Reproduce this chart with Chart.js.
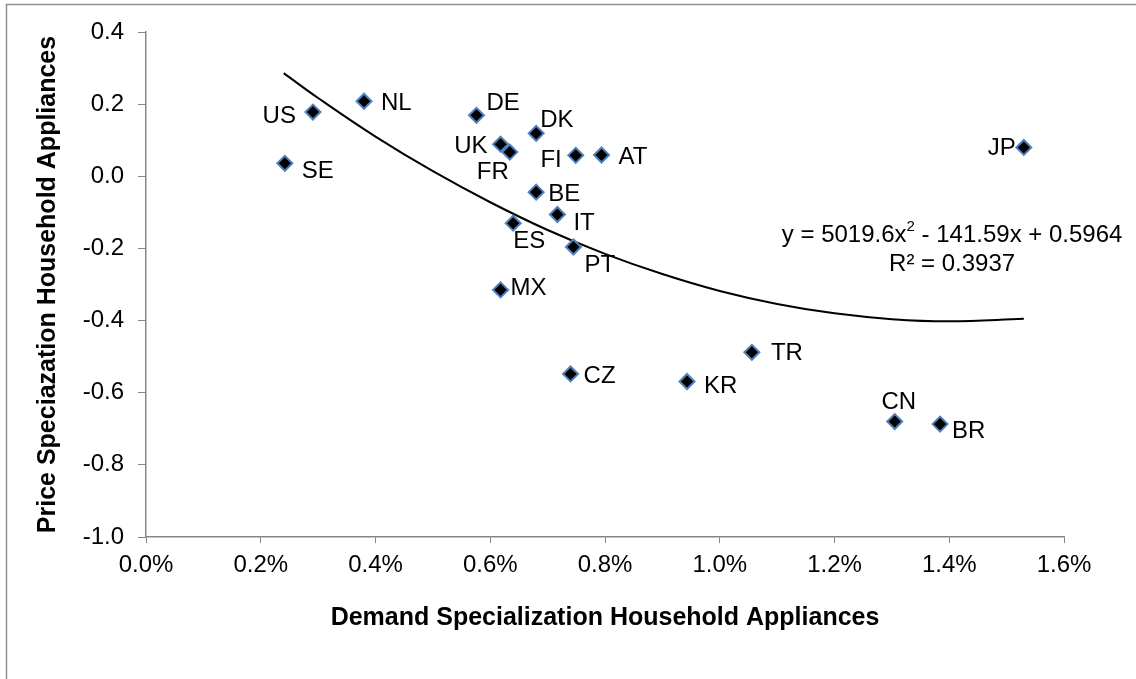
<!DOCTYPE html>
<html>
<head>
<meta charset="utf-8">
<script src="https://cdn.jsdelivr.net/npm/chart.js@4.4.1/dist/chart.umd.min.js"></script>
<style>
  body { margin: 0; background: #fff; }
  #wrap { width: 1136px; height: 679px; }
</style>
</head>
<body>
<div id="wrap"><canvas id="myChart"></canvas></div>
<script>
'use strict'

// country codes and values
const countries = ['US', 'SE', 'NL', 'DE', 'UK', 'FR', 'DK', 'FI', 'AT', 'BE',
                   'IT', 'ES', 'PT', 'MX', 'CZ', 'KR', 'TR', 'CN', 'BR', 'JP'];
const demandSpec = [0.00291, 0.00242, 0.00380, 0.00576, 0.00618, 0.00634, 0.00680, 0.00749, 0.00794, 0.00680,
                    0.00717, 0.00640, 0.00745, 0.00618, 0.00740, 0.00943, 0.01056, 0.01305, 0.01384, 0.01530];
const priceSpec = [0.178, 0.036, 0.208, 0.169, 0.089, 0.067, 0.119, 0.058, 0.059, -0.044,
                   -0.106, -0.130, -0.196, -0.315, -0.548, -0.569, -0.488, -0.680, -0.687, 0.080];

// points
const trendX = [0.0024, 0.003, 0.004, 0.005, 0.006, 0.007, 0.008, 0.009, 0.010, 0.011, 0.012, 0.013, 0.014, 0.0153];
const trendY = [0.286, 0.217, 0.110, 0.014, -0.072, -0.149, -0.215, -0.271, -0.318, -0.354, -0.380, -0.396, -0.402, -0.395];

const equationText = ['y = 5019.6x', '2', ' - 141.59x + 0.5964'];
const rSquaredText = 'R² = 0.3937';

const xTicks = [0, 0.002, 0.004, 0.006, 0.008, 0.010, 0.012, 0.014, 0.016];
const yTicks = [0.4, 0.2, 0.0, -0.2, -0.4, -0.6, -0.8, -1.0];

// where each country code sits next to its marker: [dx, dy, align]
const labelPlace = {
    US: [-17, 4, 'right'], SE: [17, 8, 'left'], NL: [17, 2, 'left'], DE: [10, -12, 'left'],
    UK: [-13, 2, 'right'], FR: [-17, 20, 'center'], DK: [4, -13, 'left'], FI: [-14, 5, 'right'],
    AT: [17, 2, 'left'], BE: [12, 2, 'left'], IT: [16, 9, 'left'], ES: [0, 18, 'left'],
    PT: [11, 18, 'left'], MX: [10, -2, 'left'], CZ: [13, 2, 'left'], KR: [17, 5, 'left'],
    TR: [19, 1, 'left'], CN: [4, -19, 'center'], BR: [12, 7, 'left'], JP: [-8, 1, 'right']
};

const FONT = "'Liberation Sans', Arial, sans-serif";
const TEXT_SIZE = 24;

const frameAndLabels = {
    id: 'frameAndLabels',
    beforeDraw(chart) {
        const ctx = chart.ctx;
        ctx.save();
        ctx.fillStyle = '#fff';
        ctx.fillRect(0, 0, chart.width, chart.height);
        ctx.strokeStyle = '#8e8e8e';
        ctx.lineWidth = 1.5;
        ctx.strokeRect(6.5, 4.5, chart.width + 20, chart.height + 20);
        ctx.restore();
    },
    afterDatasetsDraw(chart) {
        const ctx = chart.ctx;
        const meta = chart.getDatasetMeta(1);
        ctx.save();
        ctx.font = TEXT_SIZE + 'px ' + FONT;
        ctx.fillStyle = '#000';
        ctx.textBaseline = 'middle';
        meta.data.forEach((pt, i) => {
            const p = labelPlace[countries[i]];
            ctx.textAlign = p[2];
            ctx.fillText(countries[i], pt.x + p[0], pt.y + p[1]);
        });

        // trendline equation, anchored in data space
        const xs = chart.scales.x, ys = chart.scales.y;
        const cx = xs.getPixelForValue(0.01405);
        const y1 = ys.getPixelForValue(-0.164);
        const y2 = ys.getPixelForValue(-0.243);
        const big = TEXT_SIZE + 'px ' + FONT, small = '15px ' + FONT;
        ctx.font = big;
        const w0 = ctx.measureText(equationText[0]).width;
        const w2 = ctx.measureText(equationText[2]).width;
        ctx.font = small;
        const w1 = ctx.measureText(equationText[1]).width;
        let x = cx - (w0 + w1 + w2) / 2;
        ctx.textAlign = 'left';
        ctx.font = big;
        ctx.fillText(equationText[0], x, y1);
        x += w0;
        ctx.font = small;
        ctx.fillText(equationText[1], x, y1 - 9);
        x += w1;
        ctx.font = big;
        ctx.fillText(equationText[2], x, y1);
        ctx.textAlign = 'center';
        ctx.fillText(rSquaredText, cx, y2);
        ctx.restore();
    }
};

const config = {
    type: 'scatter',
    data: {
        datasets: [{
            type: 'line',
            data: trendX.map((v, i) => ({x: v, y: trendY[i]})),
            borderColor: '#000',
            borderWidth: 2,
            pointRadius: 0,
            tension: 0.4,
            fill: false,
            order: 2
        }, {
            data: demandSpec.map((v, i) => ({x: v, y: priceSpec[i]})),
            pointStyle: 'rectRot',
            pointRadius: 7.5,
            backgroundColor: '#000',
            borderColor: '#4f81bd',
            borderWidth: 2,
            order: 1
        }]
    },
    options: {
        responsive: true,
        maintainAspectRatio: false,
        animation: false,
        layout: { padding: { top: 32, right: 72, left: 0, bottom: 0 } },
        plugins: { legend: { display: false }, tooltip: { enabled: false } },
        scales: {
            x: {
                type: 'linear',
                min: 0,
                max: 0.016,
                afterBuildTicks: s => { s.ticks = xTicks.map(v => ({value: v})); },
                afterFit: s => { s.height = 142; },
                grid: { drawOnChartArea: false, color: '#868686', tickLength: 6 },
                border: { color: '#868686', width: 1.5 },
                ticks: {
                    color: '#000',
                    padding: 8,
                    font: { family: FONT, size: TEXT_SIZE },
                    callback: v => (v * 100).toFixed(1) + '%'
                },
                title: {
                    display: true,
                    text: 'Demand Specialization Household Appliances',
                    color: '#000',
                    font: { family: FONT, size: 25, weight: 'bold' },
                    padding: { top: 0, bottom: 46 }
                }
            },
            y: {
                min: -1.0,
                max: 0.4,
                afterBuildTicks: s => { s.ticks = yTicks.map(v => ({value: v})); },
                afterFit: s => { s.width = 146; },
                grid: { drawOnChartArea: false, color: '#868686', tickLength: 8 },
                border: { color: '#868686', width: 1.5 },
                ticks: {
                    color: '#000',
                    padding: 14,
                    font: { family: FONT, size: TEXT_SIZE },
                    callback: v => v.toFixed(1)
                },
                title: {
                    display: true,
                    text: 'Price Speciazation Household Appliances',
                    color: '#000',
                    font: { family: FONT, size: 25, weight: 'bold' },
                    padding: { top: 33, bottom: 0 }
                }
            }
        }
    },
    plugins: [frameAndLabels]
};

let myChart = new Chart(document.getElementById('myChart'), config);
</script>
</body>
</html>
